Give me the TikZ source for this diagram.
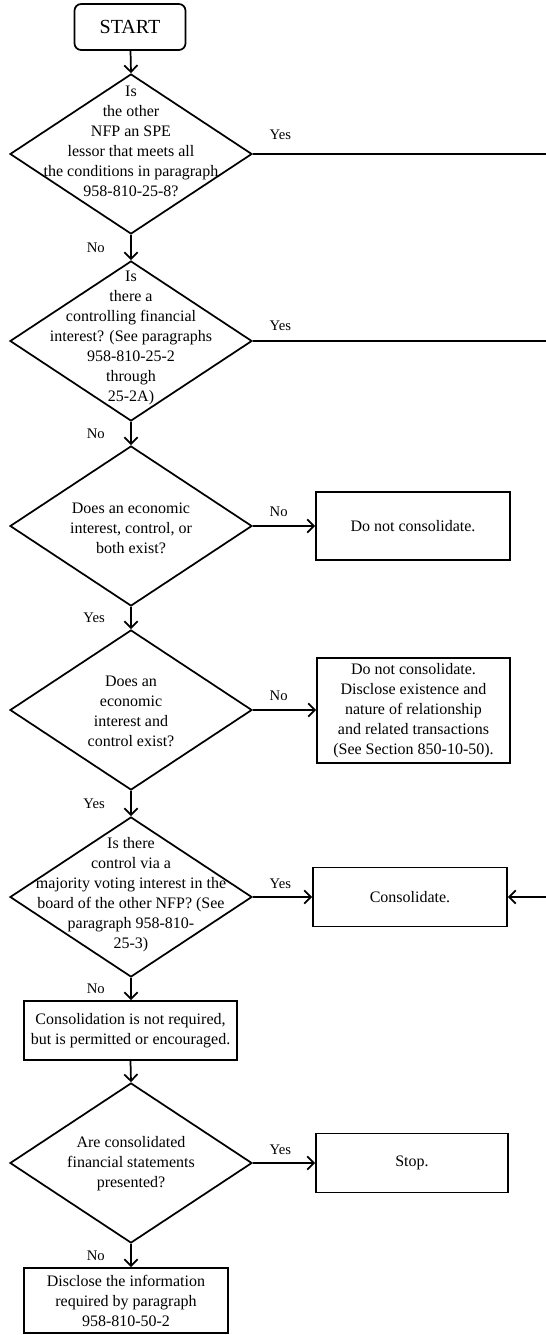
\documentclass[tikz,border=0pt]{standalone}
\usepackage{fontspec}
\setmainfont{Liberation Serif}
\usetikzlibrary{shapes.geometric,arrows.meta}

\begin{document}
\begin{tikzpicture}[x=0.75pt,y=-0.75pt,line width=1.3pt,
	>={Straight Barb[length=5pt,width=10pt]},
	decision/.style={draw,diamond,inner sep=0pt,minimum width=181.5pt,minimum height=120pt},
	qtext/.style={align=center,font=\fontsize{12}{15}\selectfont},
	outcome/.style={draw,rectangle,inner sep=0pt,align=center,font=\fontsize{12}{15}\selectfont},
	lbl/.style={font=\fontsize{11}{12}\selectfont,inner sep=2pt}]

	\useasboundingbox (0,0) rectangle (546,1335);

	% Start
	\node[draw,rounded corners=5pt,minimum width=83.25pt,minimum height=34.5pt,inner sep=0pt,
		font=\fontsize{15}{18}\selectfont] (start) at (130,27) {START};

	% Decisions (shape and text apart)
	\node[decision] (q1) at (131,154) {};
	\node[qtext] (q1t) at (131,141) {Is\\the other\\NFP an SPE\\lessor that meets all\\the conditions in paragraph\\958-810-25-8?};

	\node[decision] (q2) at (131,341) {};
	\node[qtext] (q2t) at (131,338) {Is\\there a\\controlling financial\\interest? (See paragraphs\\958-810-25-2\\through\\25-2A)};

	\node[decision] (q3) at (131,526) {};
	\node[qtext] (q3t) at (131,528) {Does an economic\\interest, control, or\\both exist?};

	\node[decision] (q4) at (131,710) {};
	\node[qtext] (q4t) at (131,711) {Does an\\economic\\interest and\\control exist?};

	\node[decision] (q5) at (131,897) {};
	\node[qtext] (q5t) at (131,895) {Is there\\control via a\\majority voting interest in the\\board of the other NFP? (See\\paragraph 958-810-\\25-3)};

	\node[decision] (q6) at (131,1163) {};
	\node[qtext] (q6t) at (131,1164) {Are consolidated\\financial statements\\presented?};

	% Outcomes
	\node[outcome,minimum width=145.5pt,minimum height=51pt] (nc1) at (413,526) {Do not consolidate.};
	\node[outcome,minimum width=144.75pt,minimum height=78.75pt] (nc2) at (413.5,710.5)
		{Do not consolidate.\\Disclose existence and\\nature of relationship\\and related transactions\\(See Section 850-10-50).};
	\node[outcome,minimum width=145.5pt,minimum height=44.25pt] (cons) at (410,897) {Consolidate.};
	\node[outcome,minimum width=159.75pt,minimum height=44.25pt] (perm) at (130.5,1030.5)
		{Consolidation is not required,\\but is permitted or encouraged.};
	\node[outcome,minimum width=144pt,minimum height=44.25pt] (stop) at (412,1163) {Stop.};
	\node[outcome,minimum width=153pt,minimum height=48.75pt] (disc) at (126,1300.5)
		{Disclose the information\\required by paragraph\\958-810-50-2};

	% Ends at the right edge
	\coordinate (e1) at (546,154);
	\coordinate (e2) at (546,341);
	\coordinate (e5) at (546,897);

	% Main column
	\draw[->] (start) -- (q1.north);
	\draw[->] (q1.south) -- (q2.north) node[lbl,midway,left=17pt] {No};
	\draw[->] (q2.south) -- (q3.north) node[lbl,midway,left=17pt] {No};
	\draw[->] (q3.south) -- (q4.north) node[lbl,midway,left=17pt] {Yes};
	\draw[->] (q4.south) -- (q5.north) node[lbl,midway,left=17pt] {Yes};
	\draw[->] (q5.south) -- (q5.south |- perm.north) node[lbl,midway,left=17pt] {No};
	\draw[->] (perm.south) -- (q6.north);
	\draw[->] (q6.south) -- (q6.south |- disc.north) node[lbl,midway,left=17pt] {No};

	% Side branches
	\draw (q1.east) -- (e1) node[lbl,pos=0,anchor=south west,xshift=10pt,yshift=8pt] {Yes};
	\draw (q2.east) -- (e2) node[lbl,pos=0,anchor=south west,xshift=10pt,yshift=5pt] {Yes};
	\draw[->] (q3.east) -- (nc1.west |- q3.east) node[lbl,pos=0,anchor=south west,xshift=10pt,yshift=4pt] {No};
	\draw[->] (q4.east) -- (nc2.west |- q4.east) node[lbl,pos=0,anchor=south west,xshift=10pt,yshift=4pt] {No};
	\draw[->] (q5.east) -- (cons.west |- q5.east) node[lbl,pos=0,anchor=south west,xshift=10pt,yshift=4pt] {Yes};
	\draw[->] (q6.east) -- (stop.west |- q6.east) node[lbl,pos=0,anchor=south west,xshift=10pt,yshift=4pt] {Yes};
	\draw[->] (e5) -- (cons.east);

\end{tikzpicture}
\end{document}
